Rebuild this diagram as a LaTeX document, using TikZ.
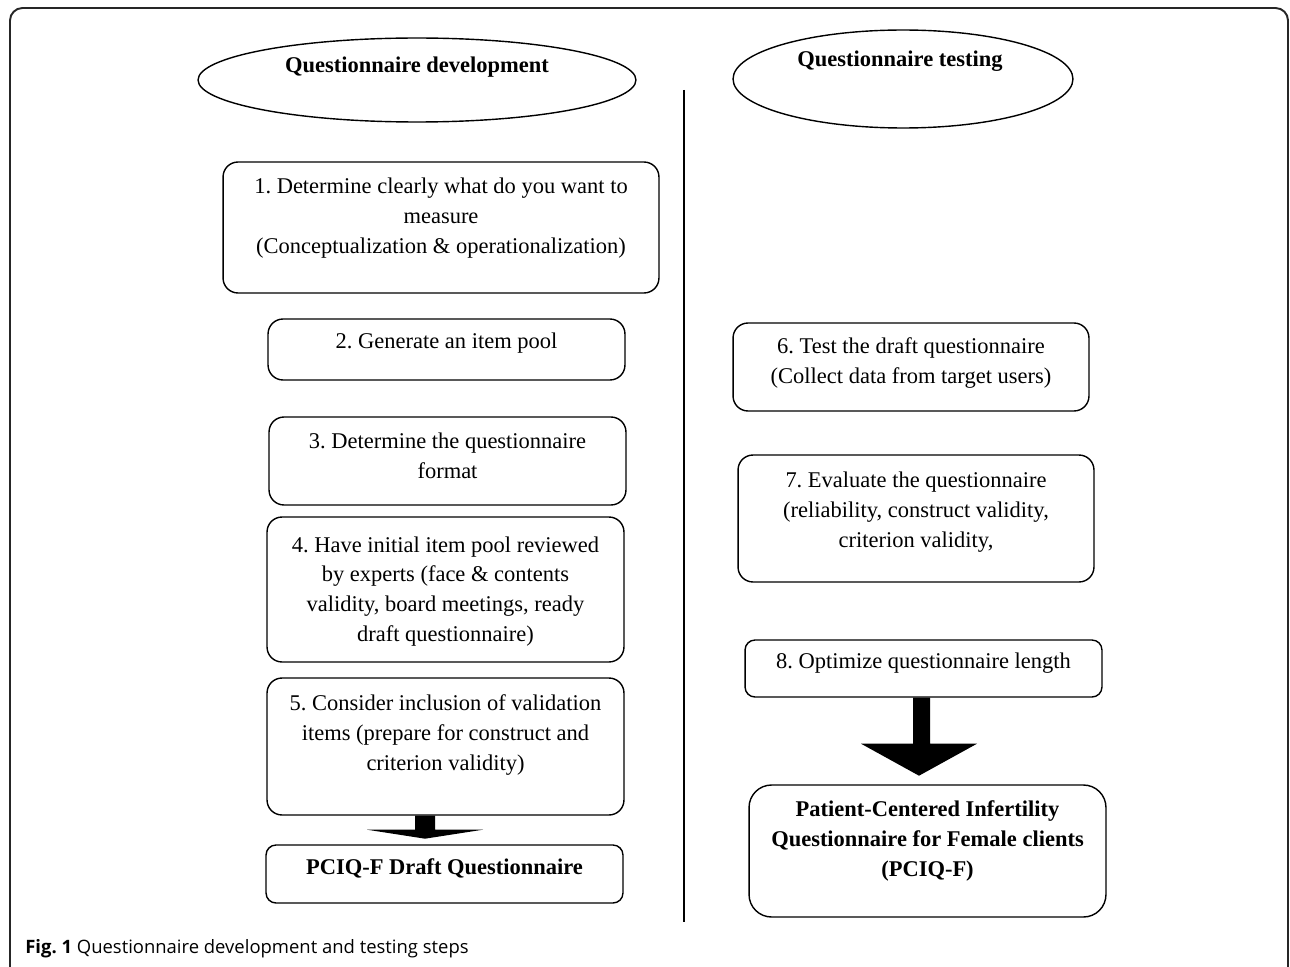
\documentclass[tikz,border=0pt]{standalone}
\usepackage{fontspec}
\setmainfont{Liberation Serif}
\newfontfamily\capfont{Open Sans}
\usetikzlibrary{shapes.geometric,calc}
\frenchspacing
\begin{document}
\begin{tikzpicture}[x=0.02cm,y=-0.02cm,
  box/.style={draw, line width=0.8pt, rounded corners=0.3cm, inner sep=0pt},
  txt/.style={align=center, font=\fontsize{12.8}{17}\selectfont, inner sep=0pt},
  btxt/.style={align=center, font=\fontsize{12.8}{17}\selectfont\bfseries, inner sep=0pt},
  oval/.style={draw, ellipse, line width=0.8pt, inner sep=0pt},
  blockarrow/.style={fill=black, draw=none}]
\useasboundingbox (0,0) rectangle (1290,966);
\clip (0,0) rectangle (1290,966);
% outer frame
\draw[line width=1.1pt, rounded corners=0.25cm, black!85] (10,8) rectangle (1288,1010);

% headers
\node[oval, minimum width=8.76cm, minimum height=1.68cm] (e1) at (417,80) {};
\node[btxt] (t1) at (417,67) {Questionnaire development};
\node[oval, minimum width=6.8cm, minimum height=1.96cm] (e2) at (903,79) {};
\node[btxt] (t2) at (900,61) {Questionnaire testing};

% divider
\coordinate (vtop) at (684,90);
\coordinate (vbot) at (684,922);
\draw[line width=0.8pt] (vtop) -- (vbot);

% left column
\node[box, minimum width=8.72cm, minimum height=2.62cm] (b1) at (441,227.5) {};
\node[txt] (s1) at (441,218) {1. Determine clearly what do you want to\\measure\\(Conceptualization \& operationalization)};

\node[box, minimum width=7.14cm, minimum height=1.22cm] (b2) at (446.5,349.5) {};
\node[txt] (s2) at (446.5,343) {2. Generate an item pool};

\node[box, minimum width=7.14cm, minimum height=1.76cm] (b3) at (447.5,461) {};
\node[txt] (s3) at (447.5,456) {3. Determine the questionnaire\\format};

\node[box, minimum width=7.14cm, minimum height=2.9cm] (b4) at (445.5,589.5) {};
\node[txt] (s4) at (445.5,591.5) {4. Have initial item pool reviewed\\by experts (face \& contents\\validity, board meetings, ready\\draft questionnaire)};

\node[box, minimum width=7.14cm, minimum height=2.74cm] (b5) at (445.5,746.5) {};
\node[txt] (s5) at (445.5,735) {5. Consider inclusion of validation\\items (prepare for construct and\\criterion validity)};

\node[box, minimum width=7.14cm, minimum height=1.16cm, rounded corners=0.2cm] (b9) at (444.5,874) {};
\node[btxt] (s9) at (444.5,868) {PCIQ-F Draft Questionnaire};

% small block arrow
\fill[blockarrow] ($(b5.south)+(-30.5,0)$) -- ($(b5.south)+(-10.5,0)$) -- ($(b5.south)+(-10.5,14)$)
  -- ($(b5.south)+(37.5,14)$) -- ($(b5.south)+(-20.5,23)$) -- ($(b5.south)+(-78.5,14)$)
  -- ($(b5.south)+(-30.5,14)$) -- cycle;

% right column
\node[box, minimum width=7.12cm, minimum height=1.76cm] (b6) at (911,367) {};
\node[txt] (s6) at (911,363) {6. Test the draft questionnaire\\(Collect data from target users)};

\node[box, minimum width=7.12cm, minimum height=2.54cm] (b7) at (916,518.5) {};
\node[txt] (s7) at (916,512) {7. Evaluate the questionnaire\\(reliability, construct validity,\\criterion validity,};

\node[box, minimum width=7.14cm, minimum height=1.14cm, rounded corners=0.2cm] (b8) at (923.5,668.5) {};
\node[txt] (s8) at (923.5,663) {8. Optimize questionnaire length};

\node[box, minimum width=7.14cm, minimum height=2.64cm, rounded corners=0.45cm] (b10) at (927.5,851) {};
\node[btxt] (s10) at (927.5,841) {Patient-Centered Infertility\\Questionnaire for Female clients\\(PCIQ-F)};

% big block arrow
\fill[blockarrow] ($(b8.south)+(-10.5,0)$) -- ($(b8.south)+(6.5,0)$) -- ($(b8.south)+(6.5,46)$)
  -- ($(b8.south)+(53.5,46)$) -- ($(b8.south)+(-4.5,78)$) -- ($(b8.south)+(-62.5,46)$)
  -- ($(b8.south)+(-10.5,46)$) -- cycle;

% caption
\node[anchor=base west, inner sep=0pt, font=\capfont\fontsize{10.5}{12}\selectfont] (cap) at (25,953) {\textbf{Fig. 1} Questionnaire development and testing steps};
\end{tikzpicture}
\end{document}
